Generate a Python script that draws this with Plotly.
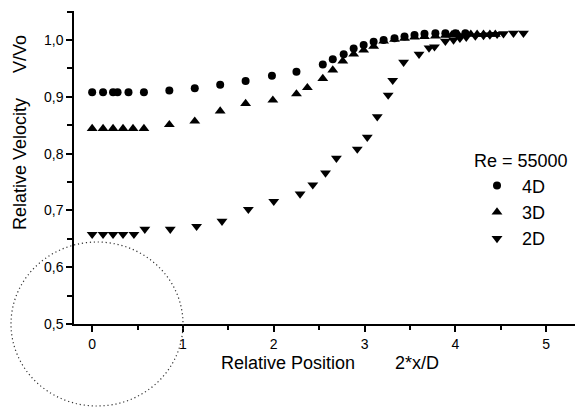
import plotly.graph_objects as go

# ---- data ----
x_4d = [0.0, 0.12, 0.23, 0.28, 0.40, 0.57, 0.85, 1.13, 1.41, 1.69, 1.98, 2.25,
        2.54, 2.65, 2.77, 2.88, 2.99, 3.10, 3.21, 3.33, 3.44, 3.55, 3.66, 3.78,
        3.89, 4.00, 4.11]
y_4d = [0.908, 0.908, 0.908, 0.908, 0.908, 0.908, 0.911, 0.915, 0.921, 0.928, 0.937, 0.944,
        0.957, 0.966, 0.975, 0.985, 0.991, 0.997, 1.000, 1.003, 1.006, 1.009, 1.011, 1.012,
        1.012, 1.012, 1.012]

x_3d = [0.0, 0.12, 0.23, 0.34, 0.45, 0.57, 0.85, 1.13, 1.41, 1.69, 1.99, 2.25, 2.37,
        2.54, 2.65, 2.76, 2.88, 2.99, 3.10, 3.21, 3.33, 3.44, 3.55, 3.66, 3.78,
        3.89, 3.96, 4.03, 4.10, 4.17, 4.24, 4.31, 4.38, 4.44]
y_3d = [0.844, 0.844, 0.844, 0.844, 0.844, 0.844, 0.851, 0.857, 0.875, 0.888, 0.894, 0.905, 0.916,
        0.932, 0.947, 0.963, 0.975, 0.982, 0.989, 0.998, 1.001, 1.003, 1.005, 1.006, 1.007,
        1.008, 1.009, 1.010, 1.010, 1.010, 1.010, 1.010, 1.010, 1.010]

x_2d = [0.0, 0.12, 0.23, 0.34, 0.46, 0.58, 0.86, 1.15, 1.43, 1.72, 2.00, 2.29, 2.43,
        2.57, 2.69, 2.92, 3.03, 3.14, 3.26, 3.31, 3.43, 3.60, 3.71, 3.77, 3.89,
        3.98, 4.05, 4.12, 4.22, 4.31, 4.38, 4.46, 4.53, 4.64, 4.75]
y_2d = [0.658, 0.658, 0.658, 0.658, 0.658, 0.667, 0.667, 0.672, 0.681, 0.702, 0.716, 0.729, 0.745,
        0.766, 0.792, 0.808, 0.829, 0.865, 0.903, 0.929, 0.961, 0.975, 0.986, 0.988, 0.998,
        1.000, 1.003, 1.005, 1.007, 1.008, 1.009, 1.010, 1.011, 1.012, 1.012]

series_names = ["4D", "3D", "2D"]
legend_title = "Re = 55000"
x_title = "Relative Position\u00a0\u00a0\u00a0\u00a0\u00a0\u00a0\u00a0\u00a02*x/D"
y_title = "Relative Velocity\u00a0\u00a0\u00a0\u00a0\u00a0V/Vo"

FONT = "Liberation Sans, Arial, sans-serif"

fig = go.Figure()
fig.add_trace(go.Scatter(x=x_4d, y=y_4d, mode="markers", name=series_names[0],
                         marker=dict(symbol="circle", size=8, color="black")))
fig.add_trace(go.Scatter(x=x_3d, y=y_3d, mode="markers", name=series_names[1],
                         marker=dict(symbol="triangle-up", size=9.5, color="black")))
fig.add_trace(go.Scatter(x=x_2d, y=y_2d, mode="markers", name=series_names[2],
                         marker=dict(symbol="triangle-down", size=9.5, color="black")))

# the page body adds an 8px offset; target positions below are in screen pixels
OFF = 8
W, H = 583, 407
plot_left, plot_right, plot_top, plot_bottom = 74, 583, 11, 324   # screen px
ml = plot_left - OFF
mt = plot_top - OFF
mr = W - (plot_right - OFF)
mb = H - (plot_bottom - OFF)
pw = plot_right - plot_left
ph = plot_bottom - plot_top

def px2paper(px, py):
    return (px - plot_left) / pw, (plot_bottom - py) / ph

cx0, cy0 = px2paper(11, 242)
cx1, cy1 = px2paper(183, 406)

xt_x, xt_y = px2paper(330, 363)
yt_x, yt_y = px2paper(20, 133)
lg_x, lg_y = px2paper(472, 144)

fig.update_layout(
    width=W, height=H,
    margin=dict(l=ml, r=mr, t=mt, b=mb, pad=0),
    paper_bgcolor="white", plot_bgcolor="white",
    separators=",.",
    font=dict(family=FONT, color="black", size=14),
    showlegend=True,
    legend=dict(
        x=lg_x, y=lg_y, xanchor="left", yanchor="top",
        bgcolor="rgba(0,0,0,0)", borderwidth=0,
        font=dict(family=FONT, size=18, color="black"),
        title=dict(text=legend_title, font=dict(family=FONT, size=18, color="black")),
        itemwidth=40, tracegroupgap=0,
    ),
    xaxis=dict(
        range=[-0.2, -0.2 + pw / 90.8], showgrid=False, zeroline=False,
        showline=True, linecolor="black", linewidth=1.5,
        ticks="outside", ticklen=6, tickwidth=1.5, tickcolor="black",
        tick0=0, dtick=1, tickformat="d",
        tickfont=dict(family=FONT, size=14, color="black"),
        minor=dict(ticks="outside", dtick=0.5, tick0=0, ticklen=4, tickwidth=1.5, tickcolor="black"),
    ),
    yaxis=dict(
        range=[0.5, 0.5 + ph / 568.0], showgrid=False, zeroline=False,
        showline=True, linecolor="black", linewidth=1.5,
        ticks="outside", ticklen=6, tickwidth=1.5, tickcolor="black",
        tick0=0.5, dtick=0.1, tickformat=".1f",
        tickfont=dict(family=FONT, size=14, color="black"),
        minor=dict(ticks="outside", dtick=0.05, tick0=0.5, ticklen=5, tickwidth=1.5, tickcolor="black"),
    ),
    shapes=[dict(type="circle", xref="paper", yref="paper",
                 x0=cx0, x1=cx1, y0=cy1, y1=cy0,
                 line=dict(color="#333333", width=1.2, dash="1.2px,2.8px"))],
    annotations=[
        dict(text=x_title, xref="paper", yref="paper", x=xt_x, y=xt_y,
             xanchor="center", yanchor="middle", showarrow=False,
             font=dict(family=FONT, size=18, color="black")),
        dict(text=y_title, xref="paper", yref="paper", x=yt_x, y=yt_y,
             xanchor="center", yanchor="middle", showarrow=False, textangle=-90,
             font=dict(family=FONT, size=18, color="black")),
    ],
)

fig.write_html("out.html")
